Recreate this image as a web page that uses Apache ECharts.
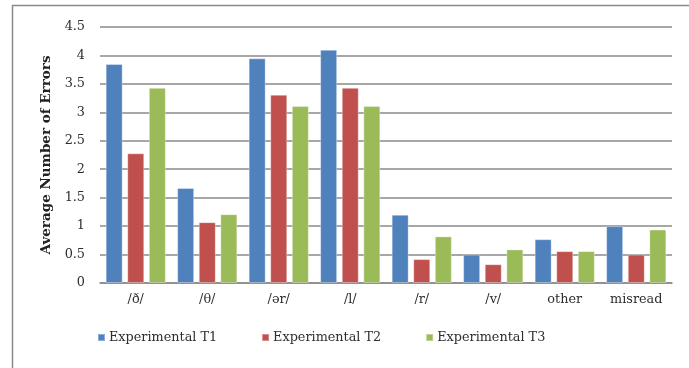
<!DOCTYPE html>
<html>
<head>
<meta charset="utf-8">
<script src="https://cdn.jsdelivr.net/npm/echarts@6/dist/echarts.min.js"></script>
<style>
  html, body { margin: 0; padding: 0; background: #fff; }
  #chart { width: 689px; height: 368px; }
</style>
</head>
<body>
<div id="chart"></div>
<script>
// Average number of errors per phoneme category, three experimental tests
const categories = ['/ð/', '/θ/', '/ər/', '/l/', '/r/', '/v/', 'other', 'misread'];
const seriesNames = ['Experimental T1', 'Experimental T2', 'Experimental T3'];
const t1 = [3.85, 1.67, 3.95, 4.1, 1.2, 0.5, 0.77, 1.0];
const t2 = [2.28, 1.07, 3.31, 3.43, 0.42, 0.33, 0.56, 0.5];
const t3 = [3.43, 1.21, 3.11, 3.11, 0.82, 0.59, 0.56, 0.94];
const yTicks = [0, 0.5, 1, 1.5, 2, 2.5, 3, 3.5, 4, 4.5];
const colors = ['#4F81BD', '#C0504D', '#9BBB59'];

const font = '"DejaVu Serif", "Liberation Serif", serif';
const values = [t1, t2, t3];

const chart = echarts.init(document.getElementById('chart'), null, { renderer: 'canvas' });
chart.setOption({
  animation: false,
  backgroundColor: '#fff',
  textStyle: { fontFamily: font },
  // frame: top and left edges of the chart area
  graphic: [
    { type: 'line', shape: { x1: 12, y1: 5.5, x2: 689, y2: 5.5 },
      style: { stroke: '#8a8a8a', lineWidth: 1.5 }, silent: true },
    { type: 'line', shape: { x1: 12.5, y1: 5, x2: 12.5, y2: 368 },
      style: { stroke: '#8a8a8a', lineWidth: 1.5 }, silent: true }
  ],
  grid: { left: 100, right: 17, top: 27, bottom: 85, containLabel: false },
  legend: {
    data: seriesNames,
    left: 92,
    top: 326,
    icon: 'rect',
    itemWidth: 7,
    itemHeight: 7,
    itemGap: 44,
    textStyle: { fontFamily: font, fontSize: 12.8, color: '#2e2e2e', padding: [0, 0, 0, -1] }
  },
  xAxis: {
    type: 'category',
    data: categories,
    axisLine: { lineStyle: { color: '#8a8a8a', width: 1.5 } },
    axisTick: { show: false },
    axisLabel: { fontFamily: font, fontSize: 12.8, color: '#2e2e2e', margin: 10 }
  },
  yAxis: {
    type: 'value',
    min: 0,
    max: yTicks[yTicks.length - 1],
    interval: 0.5,
    name: 'Average Number of Errors',
    nameLocation: 'middle',
    nameGap: 47,
    nameTextStyle: { fontFamily: font, fontSize: 13.5, fontWeight: 'bold', color: '#222' },
    axisLine: { show: false },
    axisTick: { show: false },
    splitLine: { lineStyle: { color: '#8a8a8a', width: 1.5 } },
    axisLabel: {
      fontFamily: font, fontSize: 12.8, color: '#2e2e2e', margin: 15,
      formatter: v => String(v)
    }
  },
  series: seriesNames.map((name, i) => ({
    name,
    type: 'bar',
    data: values[i],
    barWidth: 17,
    barGap: '27%',
    itemStyle: { color: colors[i], borderColor: 'rgba(255,255,255,0.35)', borderWidth: 1 }
  }))
});
</script>
</body>
</html>
